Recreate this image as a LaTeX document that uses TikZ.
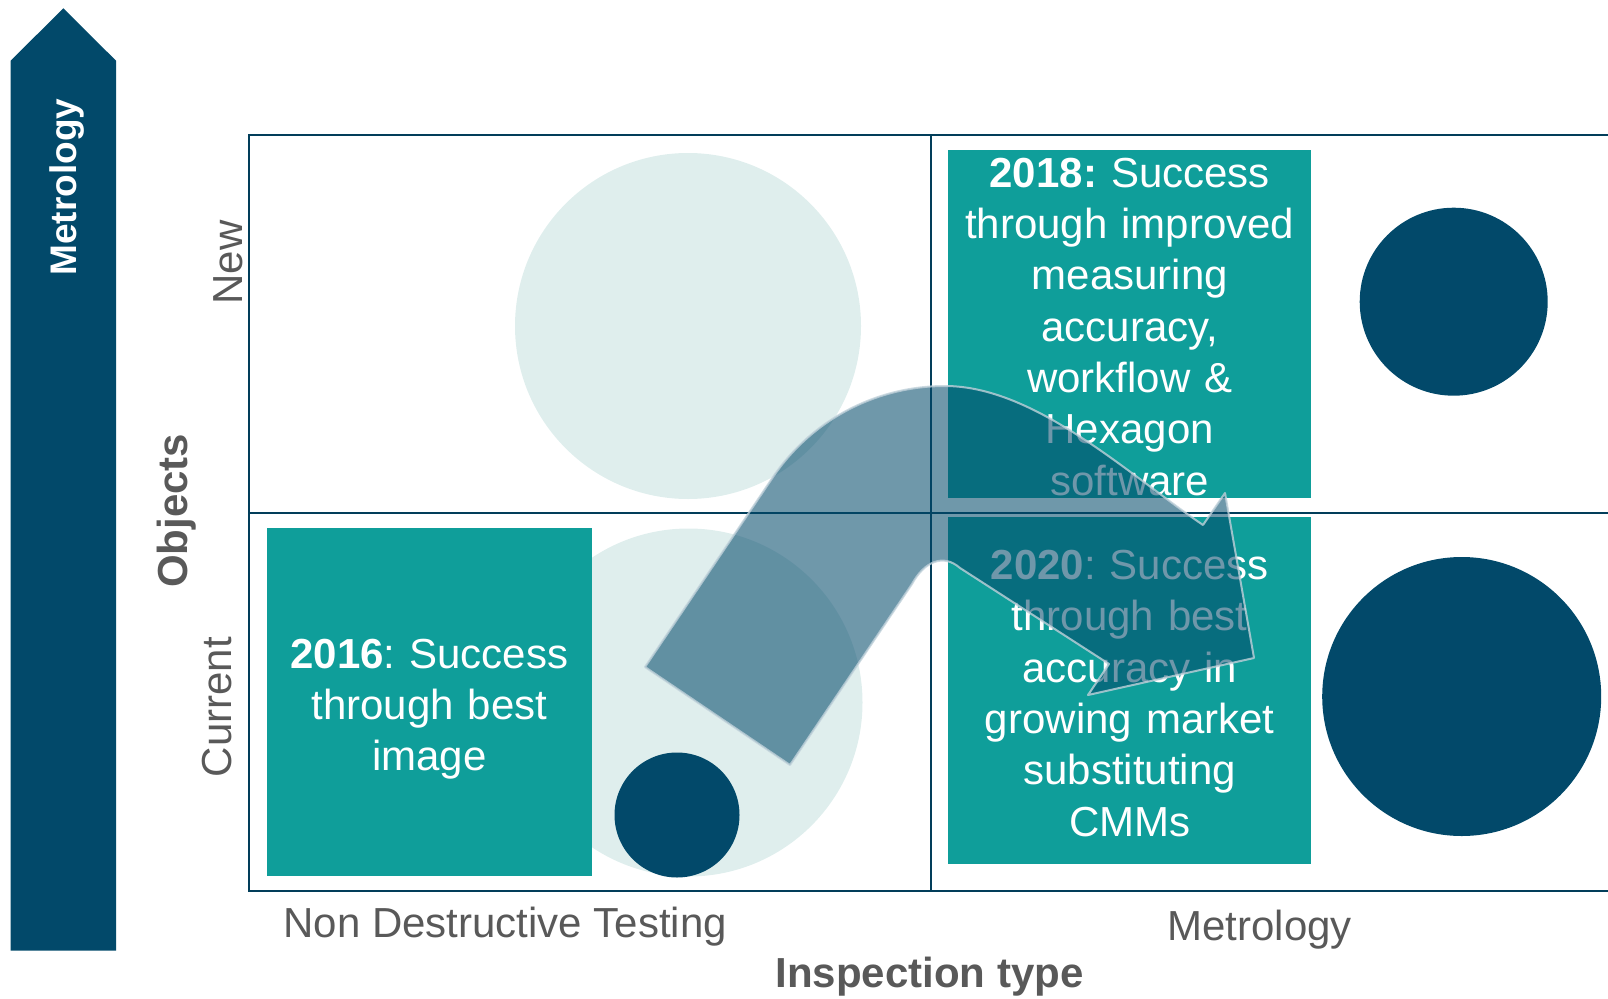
\documentclass[tikz,border=0pt]{standalone}
\usepackage{fontspec}
\setmainfont{Liberation Sans}
\usetikzlibrary{positioning}
\definecolor{navy}{RGB}{2,73,106}
\definecolor{tealbox}{RGB}{15,158,154}
\definecolor{pale}{RGB}{223,238,237}
\definecolor{axisgray}{RGB}{89,89,89}
\frenchspacing

\begin{document}
\begin{tikzpicture}[x=1pt,y=-1pt,
    big/.style={font=\fontsize{42}{51.3}\selectfont},%
    box/.style={big,fill=tealbox,text=white,align=center,inner sep=0pt},%
    lab/.style={big,text=axisgray},%
    halo/.style={circle,fill=pale,inner sep=0pt},%
    dot/.style={circle,fill=navy,inner sep=0pt},%
    axisline/.style={navy!85!black,line width=2.5pt}]
    \useasboundingbox (0,0) rectangle (1608,998);

    % left arrow
    \fill[navy] (10.7,950.6) -- (10.7,60.7) -- (63.3,8.3) -- (116,60.7) -- (116,950.6) -- cycle;
    \node[rotate=90,anchor=base,text=white,font=\fontsize{37}{44}\selectfont\bfseries] (metro) at (76,187) {Metrology};

    % grid
    \draw[axisline] (1608,135) -| (249,891) -- (1608,891);
    \draw[axisline] (249,513) -- (1608,513);
    \draw[axisline] (931,135) -- (931,891);

    % circles
    \node[halo,minimum size=346] (haloN) at (688,326) {};
    \node[halo,minimum size=348] (haloC) at (688.5,702.5) {};
    \node[dot,minimum size=125] (dotNDT) at (677,815) {};
    \node[dot,minimum size=188] (dotNew) at (1453.7,301.7) {};
    \node[dot,minimum size=279] (dotCur) at (1461.7,696.5) {};

    % boxes
    \node[box,minimum width=325.3,minimum height=347.7,text width=325] (y2016) at (429.3,701.9)
        {\rule{0pt}{44pt}\textbf{2016}: Success\\through best\\image};
    \node[box,minimum width=362.7,minimum height=348,text width=362] (y2018) at (1129.7,324)
        {\rule{0pt}{35pt}\textbf{2018:} Success\\through improved\\measuring\\accuracy,\\workflow \&\\Hexagon\\software};
    \node[box,minimum width=362.7,minimum height=347,text width=362] (y2020) at (1129.7,690.5)
        {\rule{0pt}{35pt}\textbf{2020}: Success\\through best\\accuracy in\\growing market\\substituting\\CMMs};

    % bent arrow
    \filldraw[fill=navy,fill opacity=0.57,draw=navy!25,draw opacity=0.8,line width=2pt,line join=round]
        (645,667) -- (773,477) .. controls (811.6,419.9) and (876,386) .. (945,386)
        .. controls (1035,386) and (1128.5,474.5) .. (1203,525) -- (1225,493) -- (1254,658)
        -- (1088,695) -- (1109,664) -- (960,568) .. controls (943,553) and (924,562) .. (912,584)
        -- (790,765) -- cycle;

    % axis labels
    \node[lab,anchor=base west] (ndt) at (280,937) {Non Destructive Testing};
    \node[lab,anchor=base west] (met) at (1164,940) {Metrology};
    \node[lab,anchor=base west] (insp) at (772,987) {\bfseries Inspection type};
    \node[lab,rotate=90,anchor=base] (new) at (242,262.5) {New};
    \node[lab,rotate=90,anchor=base] (obj) at (187,510.7) {\bfseries Objects};
    \node[lab,rotate=90,anchor=base] (cur) at (231,707) {Current};
\end{tikzpicture}
\end{document}
